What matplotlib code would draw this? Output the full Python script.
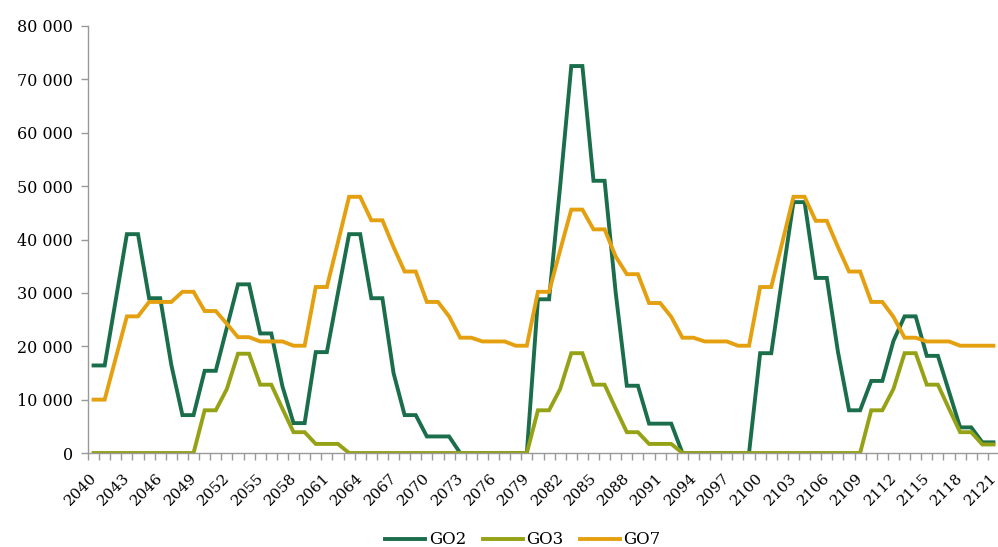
import matplotlib
matplotlib.use("Agg")
import matplotlib.pyplot as plt
import matplotlib.transforms as mtrans
from matplotlib.ticker import FuncFormatter, FixedLocator

years = list(range(2040, 2122))

go2 = [16400, 16400, 28700, 41000, 41000, 29000, 29000, 16500, 7100, 7100,
       15400, 15400, 23500, 31600, 31600, 22400, 22400, 12500, 5600, 5600,
       18900, 18900, 30000, 41000, 41000, 29000, 29000, 15000, 7100, 7100,
       3100, 3100, 3100, 0, 0, 0, 0, 0, 0, 0,
       28800, 28800, 50000, 72500, 72500, 51000, 51000, 30000, 12600, 12600,
       5500, 5500, 5500, 0, 0, 0, 0, 0, 0, 0,
       18700, 18700, 33000, 47000, 47000, 32800, 32800, 19000, 8000, 8000,
       13500, 13500, 21000, 25600, 25600, 18200, 18200, 11500, 4800, 4800,
       2000, 2000]

go3 = [0, 0, 0, 0, 0, 0, 0, 0, 0, 0,
       8000, 8000, 12000, 18600, 18600, 12800, 12800, 8300, 3900, 3900,
       1700, 1700, 1700, 0, 0, 0, 0, 0, 0, 0,
       0, 0, 0, 0, 0, 0, 0, 0, 0, 0,
       8000, 8000, 12000, 18700, 18700, 12800, 12800, 8300, 3900, 3900,
       1700, 1700, 1700, 0, 0, 0, 0, 0, 0, 0,
       0, 0, 0, 0, 0, 0, 0, 0, 0, 0,
       8000, 8000, 12000, 18700, 18700, 12800, 12800, 8300, 3900, 3900,
       1600, 1600]

go7 = [10000, 10000, 17800, 25600, 25600, 28300, 28300, 28300, 30200, 30200,
       26600, 26600, 24200, 21700, 21700, 20900, 20900, 20900, 20100, 20100,
       31100, 31100, 39500, 48000, 48000, 43600, 43600, 38600, 34000, 34000,
       28300, 28300, 25600, 21600, 21600, 20900, 20900, 20900, 20100, 20100,
       30200, 30200, 38000, 45600, 45600, 41900, 41900, 36800, 33500, 33500,
       28100, 28100, 25500, 21600, 21600, 20900, 20900, 20900, 20100, 20100,
       31100, 31100, 39500, 48000, 48000, 43500, 43500, 38600, 34000, 34000,
       28300, 28300, 25500, 21600, 21600, 20900, 20900, 20900, 20100, 20100,
       20100, 20100]

series = [("GO2", go2, "#1b6e4b"), ("GO3", go3, "#96a216"), ("GO7", go7, "#e4a00f")]

plt.rcParams['font.family'] = ['DejaVu Serif']

fig = plt.figure(figsize=(9.98, 5.47), dpi=100)
ax = fig.add_axes([88/998, 1 - 453/547, 911/998, 427/547])

x = list(range(len(years)))
for name, vals, col in series:
    ax.plot(x, vals, color=col, lw=2.8, label=name, solid_joinstyle='miter')

ax.set_xlim(-0.5, len(years) - 0.5)
ax.set_ylim(0, 80000)
ax.set_yticks(range(0, 80001, 10000))
ax.yaxis.set_major_formatter(FuncFormatter(lambda v, p: "{:,}".format(int(v)).replace(",", " ")))

# year labels every 3rd category, rotated, nudged left so the last one fits
ax.set_xticks([])
ax.xaxis.set_minor_locator(FixedLocator([i + 0.5 for i in range(-1, len(years))]))
base = ax.get_xaxis_transform()
shift = mtrans.ScaledTranslation(-4/100, -18/100, fig.dpi_scale_trans)
for i in x[::3]:
    ax.text(i, 0, str(years[i]), transform=base + shift, rotation=45,
            ha='right', va='top', rotation_mode='anchor', fontsize=11)

ax.tick_params(axis='x', which='minor', length=5, color='#999999', width=1, direction='out')
ax.tick_params(axis='y', length=5, color='#999999', width=1, labelsize=11.5, pad=6)

for s in ['top', 'right']:
    ax.spines[s].set_visible(False)
for s in ['left', 'bottom']:
    ax.spines[s].set_color('#999999')
    ax.spines[s].set_linewidth(1)

fig.legend(loc='lower center', ncol=3, frameon=False, fontsize=12,
           handlelength=2.4, handletextpad=0.2, columnspacing=1.0,
           bbox_to_anchor=(0.524, -0.03))

fig.savefig("out.png", dpi=100)
